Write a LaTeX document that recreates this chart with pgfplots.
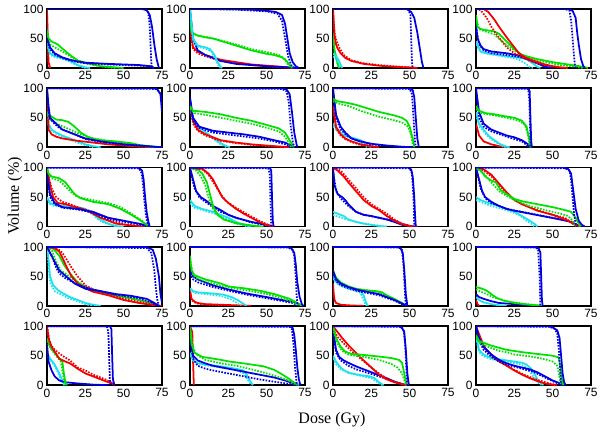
\documentclass[border=0pt]{standalone}
\usepackage{pgfplots}
\pgfplotsset{compat=1.18}
\usepackage{fontspec}
\setmainfont{Liberation Serif}
\newfontfamily\arial{Liberation Sans}
\definecolor{cb}{RGB}{0,0,225}
\definecolor{cr}{RGB}{245,0,0}
\definecolor{cg}{RGB}{0,225,0}
\definecolor{cc}{RGB}{30,225,240}
\pgfplotsset{
  dvh/.style={
    scale only axis, width=115pt, height=59pt, anchor=north west,
    xmin=0, xmax=75, ymin=0, ymax=100,
    xtick={0,25,50,75}, ytick={0,50,100},
    axis line style={line width=1.7pt}, tick style={draw=none},
    ticklabel style={font=\arial\fontsize{12}{12}\selectfont},
    /pgf/number format/assume math mode=true,
    every axis plot/.append style={line width=1.75pt, line join=round, no marks},
  },
  pos/.style 2 args={at={({47pt+143pt*#2},{-9pt-79.3pt*#1})}},
  dot/.style={dash pattern=on 1.6pt off 1.4pt},
}
\newcommand\B[1]{\addplot[cb] coordinates {#1};}
\newcommand\Bd[1]{\addplot[cb,dot] coordinates {#1};}
\newcommand\R[1]{\addplot[cr] coordinates {#1};}
\newcommand\Rd[1]{\addplot[cr,dot] coordinates {#1};}
\newcommand\G[1]{\addplot[cg] coordinates {#1};}
\newcommand\Gd[1]{\addplot[cg,dot] coordinates {#1};}
\newcommand\C[1]{\addplot[cc] coordinates {#1};}
\newcommand\Cd[1]{\addplot[cc,dot] coordinates {#1};}
\begin{document}
\begin{tikzpicture}
\useasboundingbox (0,0) rectangle (602pt,-432pt);
% ---------------- row 1
\begin{axis}[dvh, pos={0}{0}]
\R{(0,100)(0.5,50)(1,10)(2,0)}
\Rd{(0,100)(0.4,40)(0.9,8)(1.8,0)}
\C{(0,45)(2,25)(5,20)(10,17)(15,12)(20,5)(25,1)(28,0)}
\Cd{(0,40)(2,22)(6,18)(12,14)(17,8)(22,2)(25,0)}
\G{(0,65)(1,50)(3,45)(7,40)(10,33)(15,22)(20,13)(25,9)(30,6)(35,3)(45,1)(50,0)}
\Gd{(0,60)(2,40)(5,35)(10,28)(15,20)(20,12)(25,8)(30,5)(40,1)(45,0)}
\B{(0,50)(2,35)(5,25)(10,18)(15,14)(20,11)(25,9)(40,7)(60,5)(68,3)(70,0)}
\Bd{(0,45)(2,32)(5,23)(10,17)(15,13)(20,10)(25,8)(40,6)(60,4)(67,2)(69,0)}
\B{(0,100)(62,100)(65,98)(67,90)(68.5,70)(70,40)(71.5,15)(73,0)}
\Bd{(0,100)(64,100)(66,95)(67,70)(67.5,40)(68,10)(68.5,0)}
\end{axis}
\begin{axis}[dvh, pos={0}{1}]
\R{(0,70)(2,35)(5,28)(10,22)(15,18)(20,14)(30,10)(40,6)(50,4)(60,2)(65,1)(68,0)}
\Rd{(0,60)(2,32)(5,25)(10,20)(20,12)(30,8)(40,5)(50,3)(60,1)(65,0)}
\B{(0,100)(2,50)(5,30)(10,22)(20,12)(30,7)(50,3)(65,1)(70,0)}
\G{(0,80)(1,60)(5,55)(10,52)(15,50)(20,46)(30,38)(40,30)(50,24)(55,22)(60,18)(63,12)(65,5)(67,0)}
\Gd{(0,75)(2,58)(5,55)(10,53)(20,47)(30,40)(40,32)(50,27)(58,22)(62,15)(64,5)(66,0)}
\C{(0,100)(2,50)(5,38)(10,35)(13,32)(16,22)(18,10)(20,2)(21,0)}
\Cd{(0,100)(2,45)(5,36)(10,33)(14,28)(17,12)(19,2)(20,0)}
\B{(0,100)(20,100)(40,99)(50,97)(56,95)(60,90)(62,75)(63.5,50)(65,25)(67,10)(69,3)(71,0)}
\Bd{(0,100)(30,99)(50,96)(57,92)(60,80)(62,50)(64,20)(66,5)(68,0)}
\end{axis}
\begin{axis}[dvh, pos={0}{2}]
\G{(0,60)(1,30)(2,20)(3,8)(4,0)}
\Gd{(0,55)(1,28)(2,18)(3,6)(4,0)}
\C{(0,25)(2,20)(4,12)(5,5)(6,0)}
\Cd{(0,20)(2,15)(4,8)(5,0)}
\R{(0,100)(0.5,75)(1,55)(2,40)(3,33)(5,25)(8,17)(12,12)(20,7)(30,4)(40,2)(50,1)(55,0)}
\Rd{(0,100)(1,60)(2,48)(4,35)(7,22)(12,13)(20,8)(30,5)(45,2)(55,0)}
\B{(0,100)(48,100)(51,95)(53,85)(55,60)(56.5,35)(58,10)(59,0)}
\Bd{(0,100)(49,100)(50.5,90)(51,50)(51.5,10)(52,0)}
\end{axis}
\begin{axis}[dvh, pos={0}{3}]
\C{(0,45)(3,28)(7,25)(15,22)(20,20)(27,18)(33,15)(37,8)(40,2)(42,0)}
\Cd{(0,40)(3,27)(8,24)(15,21)(22,18)(28,14)(32,8)(35,2)(37,0)}
\B{(0,75)(1,50)(3,38)(5,32)(10,28)(20,25)(30,20)(35,14)(40,8)(45,2)(50,0)}
\Bd{(0,70)(2,40)(5,30)(10,25)(20,22)(30,18)(38,10)(45,3)(50,0)}
\G{(0,90)(1,70)(3,66)(7,64)(12,62)(15,58)(20,45)(25,32)(30,22)(40,15)(50,10)(60,6)(70,2)(73,0)}
\Gd{(0,85)(2,66)(6,62)(12,57)(17,45)(22,35)(28,25)(35,17)(45,10)(55,5)(65,2)(70,0)}
\R{(0,100)(5,100)(8,95)(12,82)(15,70)(20,52)(25,35)(28,25)(32,18)(38,12)(45,6)(50,3)(55,1)(60,0)}
\Rd{(0,100)(3,98)(7,85)(10,70)(13,58)(17,45)(20,35)(25,25)(30,18)(35,12)(45,5)(55,1)(60,0)}
\B{(0,100)(60,100)(63,97)(65,85)(66,60)(67,40)(68.5,15)(70,3)(71,0)}
\Bd{(0,100)(58,100)(61,97)(62,80)(63,50)(64,20)(64.5,5)(65,0)}
\end{axis}
% ---------------- row 2
\begin{axis}[dvh, pos={1}{0}]
\C{(0,100)(1,40)(3,30)(6,25)(10,20)(15,15)(20,10)(25,5)(30,2)(35,0)}
\Cd{(0,95)(1,38)(3,28)(6,23)(10,18)(15,13)(20,8)(25,4)(30,0)}
\R{(0,100)(1,30)(3,22)(6,18)(10,15)(20,11)(30,8)(40,5)(50,3)(60,1)(75,0)}
\G{(0,60)(1,55)(3,52)(6,47)(10,46)(14,43)(18,35)(22,25)(27,17)(35,12)(45,10)(55,7)(60,4)(70,1)(75,0)}
\Gd{(0,55)(3,45)(8,38)(15,30)(22,22)(30,15)(45,9)(60,3)(70,0)}
\B{(0,100)(1,70)(2,50)(4,45)(6,40)(10,30)(15,25)(20,20)(25,15)(35,10)(50,5)(60,3)(70,1)(75,0)}
\Bd{(0,95)(1,60)(2,48)(5,40)(8,33)(12,28)(18,22)(25,14)(35,9)(50,5)(65,2)(75,0)}
\B{(0,100)(70,100)(72,98)(74,90)(75,60)}
\Bd{(0,100)(71,99)(73,95)(75,85)}
\end{axis}
\begin{axis}[dvh, pos={1}{1}]
\C{(0,75)(2,45)(5,35)(8,30)(13,20)(18,10)(23,3)(26,0)}
\Cd{(0,70)(2,40)(5,33)(10,25)(15,15)(20,5)(24,0)}
\R{(0,80)(2,45)(5,30)(10,22)(20,12)(30,8)(40,5)(50,3)(60,1)(65,0)}
\Rd{(0,75)(2,40)(5,28)(10,20)(20,11)(30,7)(45,3)(60,0)}
\B{(0,85)(2,50)(6,35)(15,28)(25,25)(35,22)(45,18)(55,12)(62,8)(66,3)(68,0)}
\Bd{(0,80)(2,45)(6,33)(15,25)(30,20)(45,15)(55,10)(62,5)(66,0)}
\G{(0,70)(2,62)(10,60)(20,56)(30,50)(40,45)(50,38)(58,32)(62,25)(65,12)(67,3)(68,0)}
\Gd{(0,65)(3,58)(10,55)(20,50)(30,45)(40,40)(50,33)(58,27)(62,18)(65,5)(66,0)}
\B{(0,100)(60,100)(63,98)(65,90)(66.5,60)(68,25)(69.5,5)(70,0)}
\Bd{(0,100)(60,99)(63,95)(64.5,75)(65.5,40)(67,10)(68,0)}
\end{axis}
\begin{axis}[dvh, pos={1}{2}]
\C{(0,40)(3,30)(6,22)(10,18)(14,15)(18,12)(21,8)(23,3)(25,0)}
\Cd{(0,35)(3,27)(7,20)(12,15)(17,10)(20,5)(22,0)}
\R{(0,70)(2,35)(5,22)(8,15)(12,10)(18,5)(25,2)(30,0)}
\Rd{(0,65)(2,32)(5,20)(8,14)(12,9)(18,4)(25,1)(28,0)}
\B{(0,100)(2,55)(5,35)(8,25)(12,15)(18,10)(25,6)(35,3)(45,1)(52,0)}
\Bd{(0,95)(2,50)(5,30)(10,18)(15,12)(25,5)(40,1)(50,0)}
\G{(0,82)(3,78)(8,76)(15,72)(20,68)(25,64)(30,60)(35,57)(40,54)(45,50)(48,45)(50,35)(52,15)(53,0)}
\Gd{(0,78)(5,73)(10,70)(15,65)(20,60)(25,56)(30,52)(38,47)(45,42)(49,35)(51,20)(52,5)(53,0)}
\B{(0,100)(50,100)(52,97)(53,85)(54,50)(55,15)(56,0)}
\Bd{(0,100)(50,99)(51.5,90)(52.5,50)(53.5,10)(54,0)}
\end{axis}
\begin{axis}[dvh, pos={1}{3}]
\R{(0,40)(2,20)(5,10)(10,5)(15,2)(20,0)}
\C{(0,60)(2,40)(5,30)(8,20)(12,12)(16,5)(20,1)(22,0)}
\Cd{(0,55)(2,36)(5,27)(8,18)(12,10)(16,4)(19,0)}
\B{(0,100)(2,60)(5,40)(10,30)(15,25)(20,20)(25,17)(30,12)(34,5)(36,0)}
\Bd{(0,95)(2,50)(5,35)(10,27)(20,18)(30,10)(35,0)}
\G{(0,70)(2,62)(6,58)(12,56)(18,53)(25,50)(30,45)(33,35)(35,10)(36,0)}
\Gd{(0,65)(3,58)(10,55)(20,50)(28,45)(32,38)(34,20)(35,0)}
\B{(0,100)(34,100)(35,95)(35.5,50)(36,10)(36.5,0)}
\Bd{(0,100)(34,99)(34.8,80)(35.2,40)(35.6,0)}
\end{axis}
% ---------------- row 3
\begin{axis}[dvh, pos={2}{0}]
\C{(0,50)(2,40)(5,37)(10,35)(20,33)(25,30)(30,22)(33,15)(36,10)(40,5)(45,1)(50,0)}
\Cd{(0,47)(2,38)(5,35)(10,34)(20,32)(25,28)(30,20)(33,13)(37,7)(42,2)(46,0)}
\R{(0,100)(2,70)(4,50)(7,40)(12,38)(20,32)(25,28)(30,22)(35,15)(40,10)(45,5)(55,2)(65,0)}
\Rd{(0,95)(3,65)(6,50)(10,42)(15,38)(20,33)(30,25)(40,12)(50,4)(60,1)(65,0)}
\B{(0,90)(2,55)(5,40)(10,33)(20,30)(30,25)(35,20)(40,15)(50,10)(60,5)(65,2)(67,0)}
\Bd{(0,85)(2,50)(5,38)(10,32)(20,29)(30,24)(35,18)(40,13)(50,8)(60,4)(66,0)}
\G{(0,100)(1,90)(3,85)(8,82)(12,75)(15,65)(18,55)(22,48)(30,42)(40,38)(48,30)(55,20)(60,12)(65,3)(67,0)}
\Gd{(0,95)(3,82)(8,78)(12,68)(16,58)(20,50)(30,45)(40,40)(48,33)(55,22)(62,10)(66,0)}
\B{(0,100)(60,100)(62,95)(63,80)(64,50)(65,25)(66,10)(67,0)}
\Bd{(0,100)(60,99)(61.5,92)(62.5,75)(63.5,45)(64.5,20)(65.5,5)(66.5,0)}
\end{axis}
\begin{axis}[dvh, pos={2}{1}]
\C{(0,45)(3,35)(8,30)(15,25)(20,20)(25,15)(30,8)(35,3)(40,0)}
\Cd{(0,40)(3,32)(8,28)(15,23)(20,18)(25,13)(30,6)(35,2)(38,0)}
\B{(0,100)(2,80)(4,60)(7,50)(10,45)(15,35)(20,28)(25,20)(30,15)(40,8)(50,3)(54,0)}
\Bd{(0,95)(3,65)(6,50)(10,42)(15,33)(20,25)(30,15)(40,7)(50,2)(53,0)}
\G{(0,100)(5,97)(8,90)(11,75)(13,55)(15,35)(18,20)(22,12)(30,6)(40,2)(48,0)}
\Gd{(0,100)(4,95)(7,85)(10,70)(12,50)(14,35)(17,22)(22,13)(30,5)(45,0)}
\R{(0,100)(8,98)(12,90)(15,80)(18,65)(21,50)(25,40)(30,30)(35,22)(40,15)(45,8)(50,3)(55,0)}
\Rd{(0,100)(8,97)(12,88)(16,72)(20,55)(24,42)(30,32)(38,20)(45,10)(52,2)(55,0)}
\B{(0,100)(52,100)(53,95)(53.5,50)(54,10)(54.5,0)}
\Bd{(0,100)(51,99)(52,90)(52.5,40)(53,0)}
\end{axis}
\begin{axis}[dvh, pos={2}{2}]
\C{(0,25)(3,22)(7,18)(10,12)(15,8)(20,5)(25,3)(30,1)(35,0)}
\Cd{(0,20)(3,17)(8,13)(15,8)(25,3)(35,0)}
\B{(0,100)(1,70)(3,55)(6,50)(8,45)(10,38)(15,25)(20,20)(25,18)(30,15)(35,12)(40,8)(45,3)(50,1)(53,0)}
\Bd{(0,95)(2,60)(5,48)(10,35)(15,25)(20,20)(30,15)(40,10)(45,5)(52,0)}
\R{(0,100)(3,95)(7,85)(10,75)(15,60)(20,45)(25,35)(30,28)(35,18)(40,10)(45,4)(50,1)(55,0)}
\Rd{(0,100)(5,95)(10,80)(15,65)(20,50)(25,38)(30,30)(35,22)(40,12)(45,5)(50,1)(52,0)}
\B{(0,100)(49,100)(51,97)(52,85)(53,50)(53.5,20)(54,0)}
\Bd{(0,100)(50,99)(51.5,90)(52.5,50)(53,0)}
\end{axis}
\begin{axis}[dvh, pos={2}{3}]
\C{(0,50)(3,45)(8,40)(15,35)(20,30)(25,25)(30,18)(35,10)(38,5)(40,0)}
\Cd{(0,45)(5,40)(10,35)(20,28)(28,20)(33,10)(37,3)(38,0)}
\B{(0,100)(2,80)(4,60)(6,50)(10,42)(15,35)(20,30)(25,27)(35,22)(45,17)(55,12)(62,8)(66,3)(68,0)}
\Bd{(0,100)(3,65)(6,48)(10,40)(20,30)(30,25)(40,20)(50,15)(60,10)(65,3)(67,0)}
\R{(0,100)(5,97)(10,88)(15,73)(20,58)(25,45)(30,38)(40,27)(50,20)(55,15)(60,10)(65,3)(68,0)}
\Rd{(0,100)(5,95)(10,85)(15,70)(20,57)(25,45)(30,38)(40,28)(50,20)(58,15)(63,5)(66,0)}
\G{(0,100)(3,95)(6,85)(10,78)(13,75)(16,62)(20,55)(25,47)(30,43)(40,38)(50,33)(58,28)(62,25)(65,15)(67,5)(68,0)}
\Gd{(0,100)(5,90)(10,75)(15,60)(20,52)(25,45)(35,35)(45,28)(55,22)(60,18)(63,10)(65,0)}
\B{(0,100)(57,100)(60,98)(62,90)(63.5,60)(65,30)(67,10)(69,3)(71,0)}
\Bd{(0,100)(58,99)(61,95)(62,80)(63,50)(64,20)(65,5)(66,0)}
\end{axis}
% ---------------- row 4
\begin{axis}[dvh, pos={3}{0}]
\C{(0,100)(1,80)(2,50)(4,35)(7,27)(10,22)(15,15)(20,10)(25,5)(30,2)(35,0)}
\Cd{(0,95)(2,40)(5,25)(10,18)(15,12)(20,8)(25,3)(30,0)}
\G{(0,100)(4,97)(8,85)(11,70)(15,55)(20,40)(25,32)(30,25)(40,20)(50,15)(60,10)(68,5)(72,0)}
\Gd{(0,100)(3,95)(6,75)(9,60)(12,55)(17,45)(25,33)(35,22)(50,15)(60,10)(70,3)(73,0)}
\R{(0,100)(5,98)(8,92)(10,82)(13,65)(16,50)(20,38)(25,30)(30,24)(40,18)(50,10)(60,5)(70,1)(75,0)}
\Rd{(0,100)(7,97)(10,90)(13,78)(16,65)(20,50)(25,35)(30,28)(40,20)(50,12)(60,7)(70,2)(74,0)}
\B{(0,100)(2,90)(5,75)(8,60)(13,49)(18,38)(25,29)(35,25)(45,20)(55,17)(65,12)(70,5)(73,0)}
\Bd{(0,100)(3,85)(6,65)(8,55)(12,47)(20,36)(30,28)(45,19)(60,13)(68,6)(72,0)}
\B{(0,100)(65,100)(69,95)(71,80)(73,50)(74,20)(75,5)}
\Bd{(0,100)(65,98)(68,90)(70,60)(71,30)(72,10)(73,0)}
\end{axis}
\begin{axis}[dvh, pos={3}{1}]
\R{(0,27)(1,12)(3,7)(5,5)(10,3)(20,2)(30,1)(40,0)}
\Rd{(0,24)(1,10)(3,6)(5,4)(10,2)(20,1)(35,0)}
\C{(0,30)(2,25)(5,23)(15,21)(22,19)(27,15)(31,10)(34,5)(37,0)}
\Cd{(0,28)(3,22)(10,20)(20,17)(26,12)(30,6)(33,0)}
\B{(0,60)(2,50)(5,45)(15,35)(25,28)(37,21)(50,15)(60,10)(67,7)(72,2)(74,0)}
\Bd{(0,55)(2,45)(5,40)(15,32)(25,26)(37,19)(50,13)(67,5)(71,0)}
\G{(0,85)(1,60)(3,52)(10,45)(20,38)(25,33)(35,30)(45,26)(55,20)(65,12)(70,5)(73,0)}
\Gd{(0,80)(2,52)(5,46)(12,40)(20,34)(30,29)(40,25)(50,20)(60,13)(67,7)(71,0)}
\B{(0,100)(63,100)(66,98)(68,90)(69,70)(70,40)(71.5,15)(73,3)(74,0)}
\Bd{(0,100)(64,99)(67,95)(68,85)(69,50)(69.5,20)(70,5)(70.5,0)}
\end{axis}
\begin{axis}[dvh, pos={3}{2}]
\R{(0,38)(0.5,20)(1,10)(2,5)(5,2)(10,1)(20,0)}
\G{(0,60)(2,48)(5,40)(10,33)(15,29)(20,27)(28,25)(32,23)(35,18)(40,12)(45,5)(48,0)}
\Gd{(0,55)(3,42)(8,35)(15,29)(25,25)(30,24)(33,20)(38,13)(44,5)(47,0)}
\C{(0,50)(2,42)(5,37)(10,31)(15,27)(18,25)(20,18)(21,10)(22,3)(23,0)}
\Cd{(0,46)(2,39)(5,34)(10,29)(15,25)(18,22)(19.5,12)(21,3)(22,0)}
\B{(0,60)(2,45)(5,38)(10,32)(15,28)(20,25)(30,20)(40,10)(46,3)(48,0)}
\Bd{(0,55)(2,42)(5,35)(10,30)(15,26)(20,23)(30,18)(40,9)(46,2)(47,0)}
\B{(0,100)(42,100)(44,98)(45.5,90)(46.5,60)(47.5,20)(48.5,0)}
\Bd{(0,100)(43,99)(45,95)(46,70)(47,20)(47.5,0)}
\end{axis}
\begin{axis}[dvh, pos={3}{3}]
\R{(0,10)(1,3)(2,0)}
\C{(0,15)(2,10)(5,6)(10,3)(15,1)(20,0)}
\B{(0,20)(2,15)(5,12)(10,8)(15,5)(25,3)(35,1)(43,0)}
\G{(0,32)(3,30)(6,27)(8,24)(11,18)(14,13)(18,9)(25,5)(35,2)(43,0)}
\Gd{(0,28)(3,24)(7,20)(11,15)(15,12)(20,8)(30,4)(40,1)(43,0)}
\B{(0,100)(39,100)(41,97)(42,90)(42.5,50)(43,10)(43.5,0)}
\Bd{(0,100)(39,99)(40.5,95)(41.5,50)(42,0)}
\end{axis}
% ---------------- row 5
\begin{axis}[dvh, pos={4}{0}]
\C{(0,55)(2,45)(5,35)(8,20)(10,8)(12,0)}
\Cd{(0,50)(3,40)(6,28)(9,10)(11,0)}
\B{(0,70)(1,40)(3,25)(5,15)(8,8)(12,5)(20,3)(30,1)(40,0)}
\G{(0,80)(2,65)(5,55)(8,45)(10,40)(11,20)(12,5)(13,0)}
\Gd{(0,75)(3,60)(6,50)(9,40)(11,10)(12,0)}
\R{(0,100)(1,80)(3,65)(5,57)(8,45)(12,40)(15,37)(20,28)(25,20)(30,15)(35,10)(40,5)(43,3)(44,0)}
\Rd{(0,100)(2,70)(5,60)(10,50)(15,42)(20,30)(25,25)(30,18)(38,10)(43,3)(44,0)}
\B{(0,100)(41,100)(42,95)(42.5,50)(43,10)(44,0)}
\Bd{(0,100)(39,100)(40,90)(40.5,50)(41,10)(41.5,0)}
\end{axis}
\begin{axis}[dvh, pos={4}{1}]
\R{(0,100)(1.5,90)(2,40)(2.5,0)}
\C{(0,55)(2,42)(5,37)(10,35)(20,32)(30,28)(35,25)(37,18)(39,8)(41,0)}
\Cd{(0,50)(3,40)(10,34)(20,30)(30,26)(35,20)(38,8)(40,0)}
\B{(0,80)(2,50)(5,42)(10,37)(15,33)(25,28)(35,23)(45,18)(55,13)(62,8)(68,3)(72,0)}
\Bd{(0,75)(2,45)(5,33)(10,28)(15,25)(25,20)(35,15)(45,10)(55,6)(65,2)(70,0)}
\G{(0,100)(1,70)(3,55)(8,48)(13,46)(20,43)(26,40)(35,37)(48,32)(55,26)(59,20)(64,12)(67,6)(71,0)}
\Gd{(0,95)(2,65)(4,52)(10,43)(20,37)(30,33)(40,27)(50,20)(58,14)(65,7)(70,0)}
\B{(0,100)(65,100)(67,97)(68,85)(69,60)(70,30)(71,10)(72,0)}
\Bd{(0,100)(65,99)(66.5,95)(67.5,70)(68.5,30)(69.5,5)(70,0)}
\end{axis}
\begin{axis}[dvh, pos={4}{2}]
\C{(0,50)(2,40)(5,30)(8,24)(12,20)(18,17)(24,15)(27,12)(30,5)(33,0)}
\Cd{(0,45)(2,36)(5,27)(10,21)(18,16)(25,12)(29,5)(32,0)}
\B{(0,95)(2,60)(4,48)(7,42)(10,38)(15,32)(20,27)(25,22)(30,17)(35,12)(40,6)(45,2)(48,0)}
\Bd{(0,90)(2,55)(5,42)(10,33)(15,27)(20,23)(30,15)(40,6)(46,1)(47,0)}
\R{(0,100)(3,90)(6,80)(10,68)(15,55)(20,42)(25,30)(30,18)(35,10)(40,5)(45,2)(48,0)}
\Rd{(0,95)(3,82)(8,68)(12,58)(18,45)(24,32)(30,20)(36,10)(42,4)(47,0)}
\G{(0,100)(2,80)(5,65)(8,57)(12,53)(17,52)(25,50)(32,48)(38,46)(43,43)(45,38)(46.5,20)(47.5,5)(48,0)}
\Gd{(0,95)(3,70)(6,58)(10,52)(20,48)(30,43)(38,36)(42,30)(45,20)(47,5)(48,0)}
\B{(0,100)(43,100)(45,97)(46.5,90)(47.5,60)(48.5,20)(49.5,0)}
\Bd{(0,100)(44,99)(46,95)(47,70)(48,20)(48.5,0)}
\end{axis}
\begin{axis}[dvh, pos={4}{3}]
\C{(0,85)(2,60)(5,52)(10,46)(15,44)(20,42)(25,40)(30,38)(33,35)(36,28)(38,20)(40,10)(42,4)(44,0)}
\Cd{(0,80)(2,56)(5,49)(10,44)(20,40)(28,36)(32,32)(35,24)(38,12)(41,3)(43,0)}
\R{(0,100)(3,80)(6,62)(10,52)(14,42)(20,33)(25,25)(30,18)(35,12)(40,7)(45,3)(52,0)}
\Rd{(0,95)(3,75)(7,58)(12,46)(18,36)(25,26)(32,17)(40,9)(48,3)(53,0)}
\B{(0,100)(2,80)(5,65)(10,52)(15,43)(20,37)(25,33)(30,30)(35,27)(40,22)(45,15)(50,8)(55,3)(58,0)}
\Bd{(0,100)(2,75)(5,60)(10,48)(15,40)(20,35)(30,28)(38,22)(45,13)(50,7)(56,0)}
\G{(0,85)(2,75)(5,72)(10,67)(20,60)(30,56)(40,53)(50,50)(54,47)(55,30)(56,10)(57,0)}
\Gd{(0,80)(3,70)(8,65)(15,58)(20,56)(25,52)(35,49)(45,44)(50,40)(53,33)(54,20)(55,5)(56,0)}
\B{(0,100)(47,100)(50,98)(53,93)(54.5,80)(55.5,50)(56.5,20)(57.5,5)(58.5,0)}
\Bd{(0,100)(48,99)(51,96)(53,88)(54,60)(55,20)(55.5,0)}
\end{axis}
\node[font=\fontsize{16}{16}\selectfont, rotate=90] at (15pt,-196pt) {Volume (\%)};
\node[font=\fontsize{16}{16}\selectfont] at (332pt,-420pt) {Dose (Gy)};
\end{tikzpicture}
\end{document}
